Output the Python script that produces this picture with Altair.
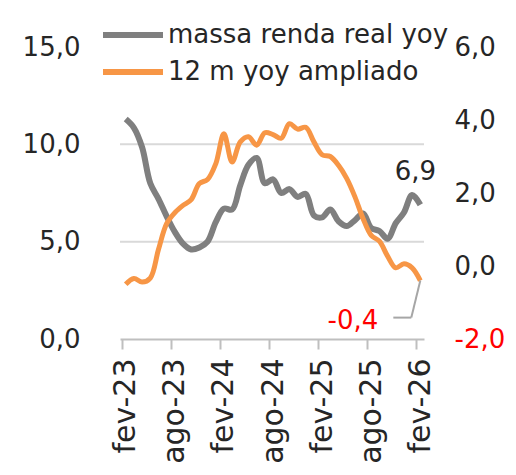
import json
import altair as alt
import pandas as pd

months = ["fev-23", "mar-23", "abr-23", "mai-23", "jun-23", "jul-23", "ago-23", "set-23", "out-23",
          "nov-23", "dez-23", "jan-24", "fev-24", "mar-24", "abr-24", "mai-24", "jun-24", "jul-24",
          "ago-24", "set-24", "out-24", "nov-24", "dez-24", "jan-25", "fev-25", "mar-25", "abr-25",
          "mai-25", "jun-25", "jul-25", "ago-25", "set-25", "out-25", "nov-25", "dez-25", "jan-26",
          "fev-26"]
massa = [11.3, 10.85, 9.85, 8.0, 7.2, 6.3, 5.5, 4.9, 4.6, 4.7, 5.0, 6.0, 6.7, 6.65, 7.9, 8.95,
         9.3, 8.0, 8.2, 7.5, 7.7, 7.3, 7.45, 6.35, 6.25, 6.65, 6.05, 5.8, 6.1, 6.45, 5.7, 5.55,
         5.15, 5.95, 6.5, 7.4, 6.9]
ampliado = [-0.5, -0.34, -0.44, -0.33, 0.45, 1.16, 1.46, 1.66, 1.82, 2.26, 2.37, 2.8, 3.62, 2.85,
            3.4, 3.54, 3.31, 3.65, 3.6, 3.5, 3.9, 3.75, 3.8, 3.4, 3.05, 3.0, 2.76, 2.4, 1.9, 1.3,
            0.84, 0.68, 0.27, -0.05, 0.06, -0.05, -0.4]
series_names = ["massa renda real yoy", "12 m yoy ampliado"]
series_colors = ["#7f7f7f", "#f79646"]
tick_labels = ["fev-23", "ago-23", "fev-24", "ago-24", "fev-25", "ago-25", "fev-26"]
left_ticks = [0, 5, 10, 15]
right_ticks = [-2, 0, 2, 4, 6]
grid_values = [5, 10]

FONT = "DejaVu Sans"
TXT = "#262626"
RED = "#ff0000"

df = pd.DataFrame({"i": list(range(len(months))), "mes": months,
                   "massa": massa, "ampliado": ampliado})
df["s1"] = series_names[0]
df["s2"] = series_names[1]
df["grid"] = [grid_values[k % 2] for k in range(len(months))]
last = len(months) - 1


def comma(expr):
    return f"replace(replace(format({expr}, '.1f'), '.', ','), '\u2212', '-')"


x_enc = alt.X("i:Q", scale=alt.Scale(domain=[-0.7, 36.45], nice=False, zero=False),
              axis=alt.Axis(values=[0, 6, 12, 18, 24, 30, 36],
                            labelExpr=f"{json.dumps(tick_labels)}[datum.value / 6]",
                            labelAngle=-90, labelFont=FONT, labelFontSize=30, labelColor=TXT,
                            tickSize=10, tickColor="#bfbfbf", tickWidth=2,
                            domainColor="#bfbfbf", domainWidth=2,
                            tickOffset=-4.1, labelOffset=4.1, labelPadding=9,
                            grid=False, title=None, labelFlush=False, labelOverlap=False,
                            labelBound=False))

left_scale = alt.Scale(domain=[0, 15], nice=False, zero=False)
right_scale = alt.Scale(domain=[-2, 6], nice=False, zero=False)

y_left = alt.Y("massa:Q", scale=left_scale,
               axis=alt.Axis(orient="left", values=left_ticks, labelExpr=comma("datum.value"),
                             labelFont=FONT, labelFontSize=26, labelColor=TXT, labelPadding=40,
                             tickSize=0, domain=False, grid=False, title=None))
y_left_na = alt.Y("massa:Q", scale=left_scale, axis=None)

y_right = alt.Y("ampliado:Q", scale=right_scale,
                axis=alt.Axis(orient="right", values=right_ticks, labelExpr=comma("datum.value"),
                              labelFont=FONT, labelFontSize=26, labelPadding=30, tickSize=0,
                              domain=False, grid=False, title=None,
                              labelColor={"condition": {"test": "datum.value < 0", "value": RED},
                                          "value": TXT}))
y_right_na = alt.Y("ampliado:Q", scale=right_scale, axis=None)

color_scale = alt.Scale(domain=series_names, range=series_colors)
legend = alt.Legend(orient="none", legendX=0, legendY=-25, title=None,
                    symbolType="M-3,0H3", symbolSize=400, symbolStrokeWidth=6,
                    labelFont=FONT, labelFontSize=26, labelColor=TXT, labelOffset=22,
                    rowPadding=11, padding=0, labelLimit=500)

base = alt.Chart(df)

grid = base.transform_filter(f"datum.i < {len(grid_values)}").mark_rule(
    color="#d9d9d9", strokeWidth=2).encode(y=alt.Y("grid:Q", scale=left_scale, axis=None))

grey_line = base.mark_line(strokeWidth=6, interpolate="catmull-rom").encode(
    x=x_enc, y=y_left, color=alt.Color("s1:N", scale=color_scale, legend=legend))
grey_label = base.transform_filter(f"datum.i == {last}").transform_calculate(
    lbl=comma("datum.massa")
).mark_text(dx=-5, dy=-33, font=FONT, fontSize=26, color=TXT, align="center",
            baseline="middle").encode(x=x_enc, y=y_left_na, text="lbl:N")

orange_line = base.mark_line(strokeWidth=5, interpolate="catmull-rom").encode(
    x=x_enc, y=y_right, color=alt.Color("s2:N", scale=color_scale, legend=legend))
last_o = base.transform_filter(f"datum.i == {last}")
leader1 = last_o.mark_rule(color="#a6a6a6", strokeWidth=2, x2Offset=-9, y2Offset=37).encode(
    x=x_enc, y=y_right_na, x2=alt.X2("i:Q"), y2=alt.Y2("ampliado:Q"))
leader2 = last_o.mark_rule(color="#a6a6a6", strokeWidth=2, xOffset=-9, yOffset=37,
                           x2Offset=-27, y2Offset=37).encode(
    x=x_enc, y=y_right_na, x2=alt.X2("i:Q"), y2=alt.Y2("ampliado:Q"))
orange_label = last_o.transform_calculate(
    lbl=comma("datum.ampliado")
).mark_text(dx=-42, dy=40, font=FONT, fontSize=26, color=RED, align="right",
            baseline="middle").encode(x=x_enc, y=y_right_na, text="lbl:N")

chart = alt.layer(grid, grey_line, grey_label, orange_line, leader1, leader2,
                  orange_label).resolve_scale(y="independent").properties(
    width=304, height=292,
    padding={"left": 112, "top": 39, "right": 84, "bottom": 127},
    autosize=alt.AutoSizeParams(type="none"),
).configure_view(stroke=None)

chart.save("out.html", embed_options={"renderer": "svg", "actions": False})
